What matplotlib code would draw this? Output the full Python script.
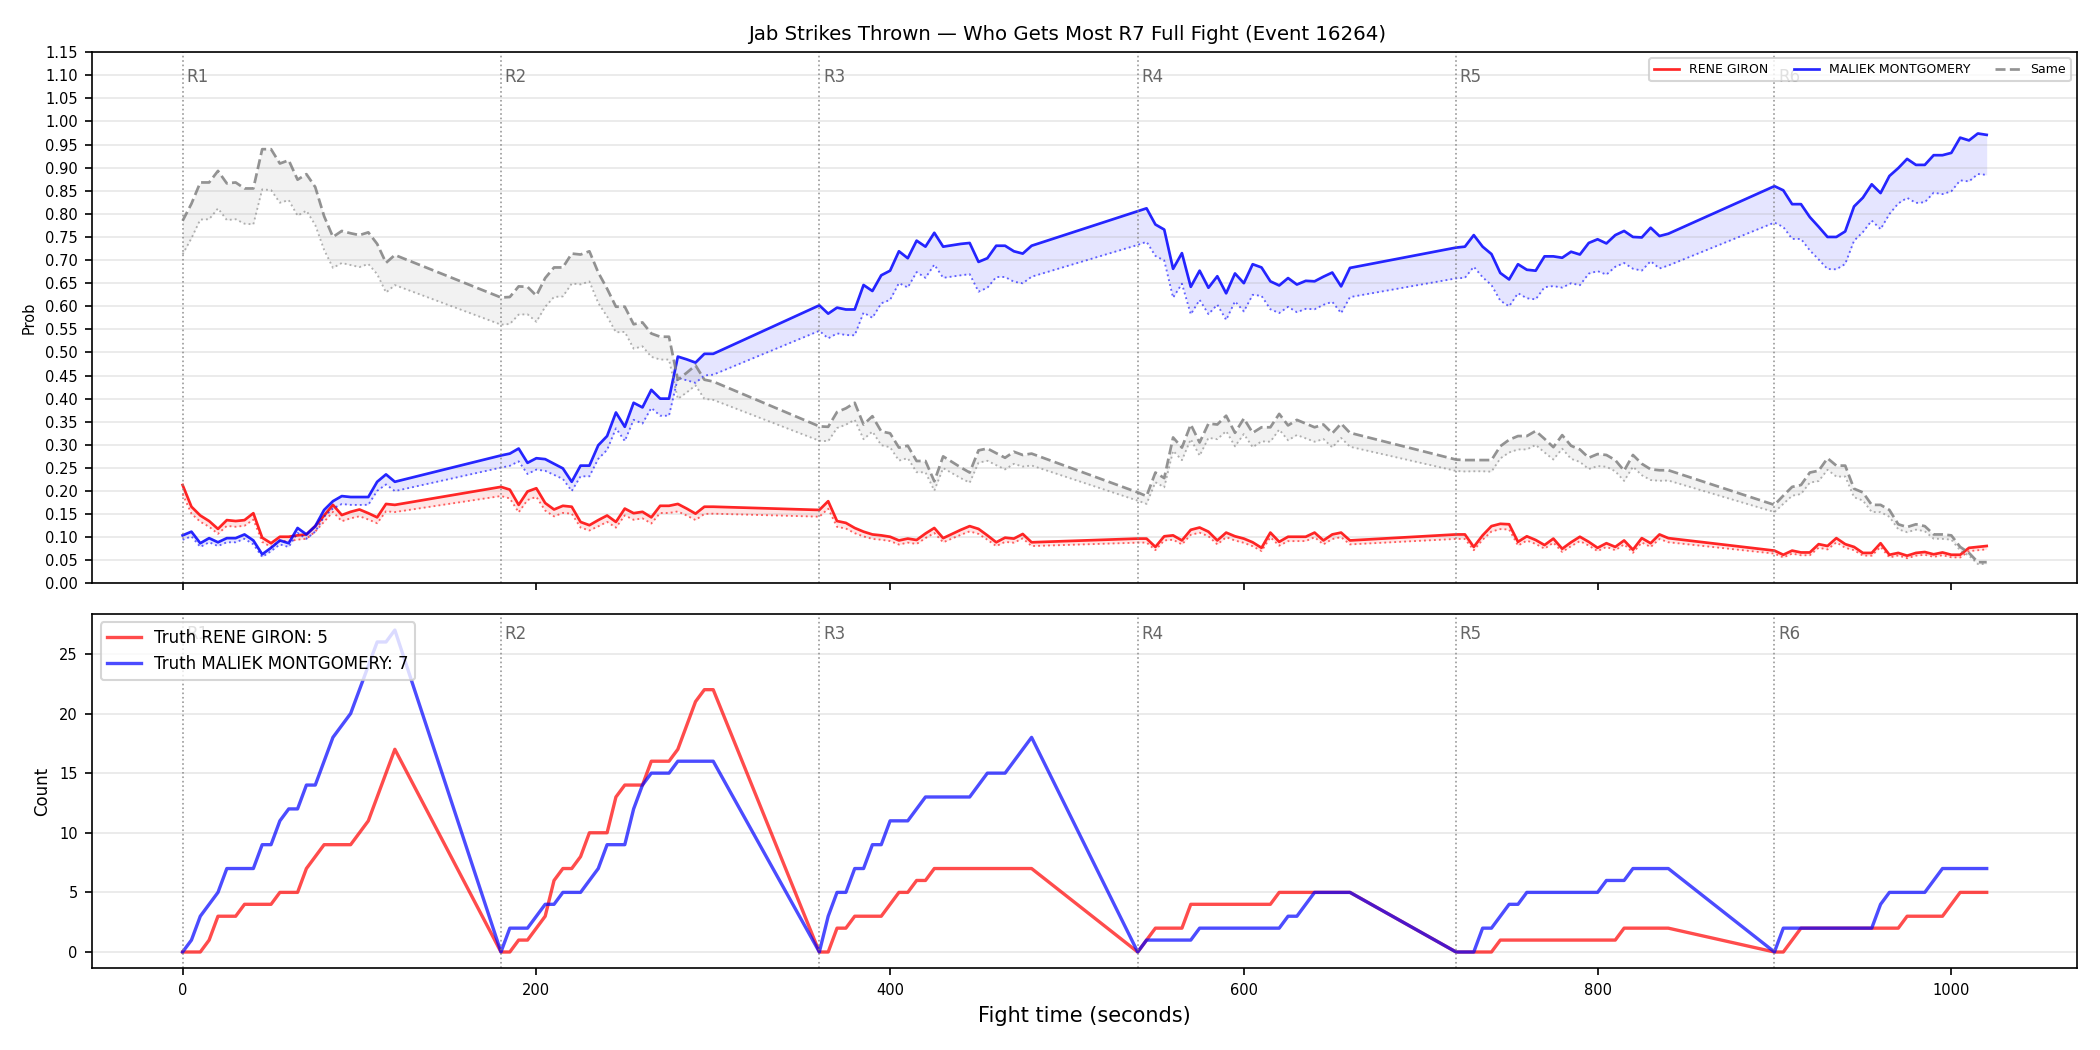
import numpy as np
import matplotlib.pyplot as plt
import matplotlib.transforms as mtransforms

# rounds: samples every 5 s for the first 120 s of each round
round_starts = [0, 180, 360, 540, 720, 900]
round_offsets = list(range(0, 125, 5))
round_names = ["R1", "R2", "R3", "R4", "R5", "R6"]

red_name = "RENE GIRON"
blue_name = "MALIEK MONTGOMERY"

# top panel: raw model scores (dotted lines = scores normalised to sum 1)
red_prob = [
    0.213, 0.166, 0.147, 0.135, 0.118, 0.137, 0.135, 0.137, 0.152, 0.099, 0.087, 0.101, 0.101,
    0.104, 0.106, 0.124, 0.147, 0.170, 0.148, 0.155, 0.160, 0.152, 0.143, 0.172, 0.170,
    0.209, 0.203, 0.170, 0.199, 0.206, 0.174, 0.160, 0.168, 0.166, 0.133, 0.126, 0.137, 0.147,
    0.133, 0.162, 0.152, 0.155, 0.143, 0.168, 0.168, 0.172, 0.162, 0.151, 0.166, 0.166,
    0.159, 0.178, 0.135, 0.131, 0.120, 0.112, 0.106, 0.104, 0.101, 0.093, 0.097, 0.094, 0.108,
    0.120, 0.098, 0.107, 0.116, 0.124, 0.118, 0.104, 0.089, 0.099, 0.097, 0.107, 0.089,
    0.097, 0.097, 0.079, 0.102, 0.104, 0.093, 0.116, 0.121, 0.112, 0.093, 0.110, 0.102, 0.097,
    0.089, 0.077, 0.110, 0.090, 0.101, 0.101, 0.101, 0.110, 0.093, 0.106, 0.110, 0.093,
    0.106, 0.106, 0.079, 0.104, 0.124, 0.129, 0.128, 0.090, 0.102, 0.094, 0.083, 0.097, 0.075,
    0.089, 0.101, 0.090, 0.077, 0.087, 0.079, 0.093, 0.073, 0.098, 0.087, 0.106, 0.098,
    0.071, 0.062, 0.071, 0.067, 0.067, 0.085, 0.081, 0.098, 0.085, 0.079, 0.066, 0.066, 0.087,
    0.062, 0.066, 0.060, 0.066, 0.068, 0.063, 0.067, 0.062, 0.062, 0.077, 0.079, 0.081,
]
blue_prob = [
    0.104, 0.112, 0.087, 0.098, 0.089, 0.098, 0.098, 0.106, 0.093, 0.063, 0.077, 0.093, 0.087,
    0.120, 0.106, 0.124, 0.159, 0.178, 0.189, 0.187, 0.187, 0.187, 0.220, 0.236, 0.220,
    0.277, 0.281, 0.292, 0.261, 0.271, 0.269, 0.259, 0.249, 0.220, 0.255, 0.255, 0.299, 0.319,
    0.370, 0.339, 0.391, 0.381, 0.419, 0.400, 0.400, 0.491, 0.485, 0.478, 0.497, 0.497,
    0.602, 0.584, 0.597, 0.593, 0.593, 0.646, 0.633, 0.667, 0.677, 0.719, 0.704, 0.742, 0.729,
    0.759, 0.729, 0.732, 0.735, 0.737, 0.696, 0.704, 0.731, 0.731, 0.719, 0.714, 0.731,
    0.806, 0.812, 0.777, 0.766, 0.681, 0.715, 0.642, 0.677, 0.640, 0.665, 0.628, 0.671, 0.650,
    0.691, 0.684, 0.654, 0.645, 0.661, 0.647, 0.655, 0.654, 0.664, 0.673, 0.643, 0.683,
    0.727, 0.729, 0.754, 0.729, 0.713, 0.672, 0.658, 0.691, 0.679, 0.677, 0.708, 0.708, 0.705,
    0.718, 0.712, 0.737, 0.745, 0.736, 0.754, 0.763, 0.750, 0.749, 0.770, 0.752, 0.757,
    0.860, 0.851, 0.821, 0.821, 0.793, 0.772, 0.750, 0.750, 0.762, 0.816, 0.835, 0.864, 0.845,
    0.882, 0.899, 0.919, 0.906, 0.906, 0.927, 0.927, 0.932, 0.965, 0.959, 0.974, 0.971,
]
same_prob = [
    0.785, 0.822, 0.868, 0.868, 0.893, 0.866, 0.868, 0.855, 0.855, 0.940, 0.940, 0.909, 0.916,
    0.874, 0.886, 0.858, 0.795, 0.750, 0.763, 0.758, 0.754, 0.760, 0.735, 0.694, 0.711,
    0.619, 0.620, 0.643, 0.642, 0.623, 0.661, 0.684, 0.684, 0.714, 0.712, 0.719, 0.673, 0.638,
    0.599, 0.599, 0.561, 0.565, 0.541, 0.534, 0.534, 0.441, 0.456, 0.472, 0.441, 0.437,
    0.340, 0.339, 0.371, 0.379, 0.391, 0.344, 0.362, 0.329, 0.325, 0.294, 0.298, 0.265, 0.265,
    0.221, 0.275, 0.263, 0.251, 0.240, 0.288, 0.292, 0.282, 0.272, 0.285, 0.278, 0.281,
    0.197, 0.189, 0.240, 0.228, 0.316, 0.294, 0.344, 0.305, 0.346, 0.344, 0.363, 0.326, 0.357,
    0.326, 0.338, 0.338, 0.367, 0.342, 0.354, 0.346, 0.338, 0.344, 0.325, 0.346, 0.326,
    0.268, 0.267, 0.267, 0.267, 0.267, 0.297, 0.311, 0.319, 0.319, 0.330, 0.313, 0.295, 0.321,
    0.298, 0.290, 0.272, 0.280, 0.278, 0.267, 0.244, 0.278, 0.259, 0.247, 0.245, 0.245,
    0.170, 0.190, 0.209, 0.213, 0.240, 0.244, 0.271, 0.255, 0.255, 0.205, 0.197, 0.170, 0.170,
    0.159, 0.128, 0.122, 0.128, 0.124, 0.106, 0.106, 0.104, 0.079, 0.066, 0.046, 0.046,
]

# bottom panel: cumulative jab counts within each round
red_count = [
    0, 0, 0, 1, 3, 3, 3, 4, 4, 4, 4, 5, 5, 5, 7, 8, 9, 9, 9, 9, 10, 11, 13, 15, 17,
    0, 0, 1, 1, 2, 3, 6, 7, 7, 8, 10, 10, 10, 13, 14, 14, 14, 16, 16, 16, 17, 19, 21, 22, 22,
    0, 0, 2, 2, 3, 3, 3, 3, 4, 5, 5, 6, 6, 7, 7, 7, 7, 7, 7, 7, 7, 7, 7, 7, 7,
    0, 1, 2, 2, 2, 2, 4, 4, 4, 4, 4, 4, 4, 4, 4, 4, 5, 5, 5, 5, 5, 5, 5, 5, 5,
    0, 0, 0, 0, 0, 1, 1, 1, 1, 1, 1, 1, 1, 1, 1, 1, 1, 1, 1, 2, 2, 2, 2, 2, 2,
    0, 0, 1, 2, 2, 2, 2, 2, 2, 2, 2, 2, 2, 2, 2, 3, 3, 3, 3, 3, 4, 5, 5, 5, 5,
]
blue_count = [
    0, 1, 3, 4, 5, 7, 7, 7, 7, 9, 9, 11, 12, 12, 14, 14, 16, 18, 19, 20, 22, 24, 26, 26, 27,
    0, 2, 2, 2, 3, 4, 4, 5, 5, 5, 6, 7, 9, 9, 9, 12, 14, 15, 15, 15, 16, 16, 16, 16, 16,
    0, 3, 5, 5, 7, 7, 9, 9, 11, 11, 11, 12, 13, 13, 13, 13, 13, 13, 14, 15, 15, 15, 16, 17, 18,
    0, 1, 1, 1, 1, 1, 1, 2, 2, 2, 2, 2, 2, 2, 2, 2, 2, 3, 3, 4, 5, 5, 5, 5, 5,
    0, 0, 0, 2, 2, 3, 4, 4, 5, 5, 5, 5, 5, 5, 5, 5, 5, 6, 6, 6, 7, 7, 7, 7, 7,
    0, 2, 2, 2, 2, 2, 2, 2, 2, 2, 2, 2, 4, 5, 5, 5, 5, 5, 6, 7, 7, 7, 7, 7, 7,
]

t = np.concatenate([np.array(round_offsets) + s for s in round_starts])
red_prob = np.array(red_prob)
blue_prob = np.array(blue_prob)
same_prob = np.array(same_prob)
total = red_prob + blue_prob + same_prob

fig, (ax1, ax2) = plt.subplots(2, 1, figsize=(14, 7), sharex=True,
                               gridspec_kw={"height_ratios": [3, 2]})
fig.subplots_adjust(left=0.044, right=0.989, top=0.9503, bottom=0.078, hspace=0.069)

series = [
    (red_prob, "red", "-", red_name),
    (blue_prob, "blue", "-", blue_name),
    (same_prob, "gray", "--", "Same"),
]
for vals, color, ls, label in series:
    norm = vals / total
    ax1.plot(t, vals, color=color, ls=ls, lw=1.3, alpha=0.85, label=label)
    ax1.plot(t, norm, color=color, ls=":", lw=0.9, alpha=0.6)
    ax1.fill_between(t, norm, vals, color=color, alpha=0.1, lw=0)

ax1.set_ylim(0, 1.15)
ax1.set_yticks(np.arange(0, 1.151, 0.05))
ax1.yaxis.set_major_formatter(plt.FormatStrFormatter("%.2f"))
ax1.set_ylabel("Prob", fontsize=7)
ax1.grid(axis="y", alpha=0.3)
ax1.tick_params(labelsize=7)
ax1.legend(loc="upper right", ncol=3, fontsize=6)
ax1.set_title("Jab Strikes Thrown \u2014 Who Gets Most R7 Full Fight (Event 16264)",
              fontsize=9.5, x=0.491)

ax2.plot(t, red_count, color="red", lw=1.6, alpha=0.7,
         label=f"Truth {red_name}: {red_count[-1]}")
ax2.plot(t, blue_count, color="blue", lw=1.6, alpha=0.7,
         label=f"Truth {blue_name}: {blue_count[-1]}")
ax2.set_ylabel("Count", fontsize=8)
ax2.set_xlabel("Fight time (seconds)", fontsize=10)
ax2.grid(axis="y", alpha=0.3)
ax2.tick_params(labelsize=7)
ax2.legend(loc="upper left", fontsize=8)

for ax in (ax1, ax2):
    trans = mtransforms.blended_transform_factory(ax.transData, ax.transAxes)
    for s, name in zip(round_starts, round_names):
        ax.axvline(s, color="gray", ls=":", lw=0.8, alpha=0.8)
        ax.text(s + 2, 0.97, name, transform=trans, va="top", ha="left",
                fontsize=8, color="#666666")

fig.savefig("out.png", dpi=150)
